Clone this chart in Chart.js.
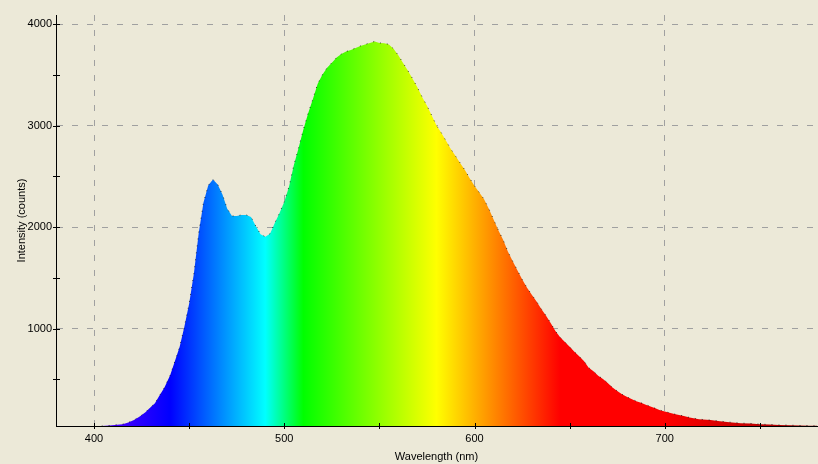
<!DOCTYPE html>
<html>
<head>
<meta charset="utf-8">
<script src="https://cdn.jsdelivr.net/npm/chart.js@4.4.1/dist/chart.umd.min.js"></script>
<style>
  html, body { margin: 0; padding: 0; background: #ECE9D8; }
  #wrap { width: 818px; height: 464px; }
</style>
</head>
<body>
<div id="wrap"><canvas id="spectrum"></canvas></div>
<script>
// wavelength (nm) and intensity (counts)
const wavelengths = [
  404, 408, 412, 415, 418, 421, 424, 427, 429, 432, 434, 437, 440, 442, 445,
  447.5, 450, 452.5, 455, 457.5, 460, 462.5, 465, 467.5, 470, 472.5, 475, 477.5, 480, 482.5,
  485, 487.5, 490, 492.5, 495, 497.5, 500, 502.5, 505, 507.5, 510, 512.5, 515, 517.5, 520,
  522.5, 525, 527.5, 530, 532.5, 535, 537.5, 540, 542.5, 545, 547.5, 550, 552.5, 555, 557.5,
  560, 562.5, 565, 567.5, 570, 572.5, 575, 577.5, 580, 582.5, 585, 587.5, 590, 592.5, 595,
  597.5, 600, 602.5, 605, 607.5, 610, 612.5, 615, 617.5, 620, 622.5, 625, 627.5, 630, 632.5,
  635, 637.5, 640, 642.5, 645, 647.5, 650, 652.5, 655, 657.5, 660, 662.5, 665, 667.5, 670,
  672.5, 675, 677.5, 680, 682.5, 685, 687.5, 690, 692.5, 695, 697.5, 700, 702.5, 705, 707.5,
  710, 713, 718, 724, 729, 734, 740, 745, 750, 755, 760, 766, 771, 776, 780
];
const intensity = [
  40, 45, 52, 58, 75, 100, 133, 175, 213, 265, 327, 420, 540, 650, 820,
  1020, 1248, 1544, 1940, 2240, 2410, 2470, 2420, 2320, 2180, 2110, 2110, 2120, 2120, 2100,
  2010, 1930, 1905, 1935, 2040, 2140, 2250, 2400, 2610, 2780, 2960, 3120, 3260, 3410, 3500,
  3570, 3620, 3670, 3705, 3730, 3745, 3765, 3785, 3800, 3815, 3830, 3815, 3812, 3800, 3755,
  3690, 3615, 3540, 3460, 3375, 3280, 3195, 3100, 3000, 2930, 2850, 2770, 2700, 2630, 2560,
  2480, 2405, 2340, 2275, 2180, 2075, 1970, 1875, 1760, 1665, 1575, 1485, 1405, 1335, 1270,
  1195, 1130, 1055, 975, 915, 868, 820, 771, 727, 680, 615, 580, 535, 503, 463,
  420, 385, 352, 328, 305, 285, 268, 250, 233, 214, 196, 183, 170, 158, 148,
  138, 124, 107, 98, 88, 78, 68, 65, 58, 55, 51, 48, 45, 43, 42
];

const xTicks = [400, 450, 500, 550, 600, 650, 700, 750];
const xLabels = [400, 500, 600, 700];
const yTicks = [500, 1000, 1500, 2000, 2500, 3000, 3500, 4000];
const yLabels = [1000, 2000, 3000, 4000];

// colour of the fill along the wavelength axis
const spectrumStops = [
  [380, '#7000ff'], [415, '#4000ff'], [440, '#0000ff'], [490, '#00ffff'],
  [510, '#00ff00'], [580, '#ffff00'], [645, '#ff0000'], [700, '#ff0000'], [780, '#990000']
];

const spectrumFill = (context) => {
  const chart = context.chart;
  const area = chart.chartArea;
  if (!area) return '#00ff00';
  const x = chart.scales.x;
  const g = chart.ctx.createLinearGradient(area.left, 0, area.right, 0);
  spectrumStops.forEach(([nm, c]) => {
    let t = (x.getPixelForValue(nm) - area.left) / (area.right - area.left);
    g.addColorStop(Math.min(1, Math.max(0, t)), c);
  });
  return g;
};

// tick marks that cross the axis line
const crossTicks = {
  id: 'crossTicks',
  afterDraw(chart) {
    const {ctx, chartArea, scales} = chart;
    ctx.save();
    ctx.strokeStyle = '#000';
    ctx.lineWidth = 1;
    ctx.beginPath();
    xTicks.forEach(v => {
      const px = Math.round(scales.x.getPixelForValue(v)) + 0.5;
      ctx.moveTo(px, chartArea.bottom - 3);
      ctx.lineTo(px, chartArea.bottom + 3);
    });
    yTicks.forEach(v => {
      const py = Math.round(scales.y.getPixelForValue(v)) + 0.5;
      ctx.moveTo(chartArea.left - 3, py);
      ctx.lineTo(chartArea.left + 4, py);
    });
    ctx.stroke();
    ctx.restore();
  }
};

const tickFont = { family: 'Liberation Sans', size: 11 };

new Chart(document.getElementById('spectrum'), {
  type: 'line',
  data: {
    datasets: [{
      data: wavelengths.map((w, i) => ({ x: w, y: intensity[i] })),
      fill: 'start',
      backgroundColor: spectrumFill,
      borderColor: 'rgba(0,0,0,0.7)',
      borderWidth: 1,
      borderDash: [1, 6],
      pointRadius: 0,
      tension: 0
    }]
  },
  options: {
    responsive: true,
    maintainAspectRatio: false,
    animation: false,
    layout: { padding: { top: 15, right: 1, left: 0, bottom: 0 } },
    plugins: { legend: { display: false }, tooltip: { enabled: false } },
    scales: {
      x: {
        type: 'linear',
        min: 380,
        max: 780,
        z: 1,
        afterBuildTicks: (s) => { s.ticks = xTicks.map(v => ({ value: v })); },
        afterFit: (s) => { s.height = 38; },
        ticks: {
          color: '#000',
          font: tickFont,
          padding: 3,
          maxRotation: 0,
          autoSkip: false,
          callback: (v) => xLabels.includes(v) ? String(v) : ''
        },
        grid: {
          color: (c) => xLabels.includes(c.tick && c.tick.value) ? '#a0a0a0' : 'rgba(0,0,0,0)',
          tickColor: 'rgba(0,0,0,0)',
          tickLength: 3
        },
        border: { display: true, color: '#000', width: 1, dash: [6, 9] },
        title: {
          display: true,
          text: 'Wavelength (nm)',
          color: '#000',
          font: tickFont,
          padding: { top: 5, bottom: 0 }
        }
      },
      y: {
        min: 40,
        max: 4090,
        z: 1,
        afterBuildTicks: (s) => { s.ticks = yTicks.map(v => ({ value: v })); },
        afterFit: (s) => { s.width = 56; },
        ticks: {
          color: '#000',
          font: tickFont,
          padding: 1,
          autoSkip: false,
          callback: (v) => yLabels.includes(v) ? String(v) : ''
        },
        grid: {
          color: (c) => yLabels.includes(c.tick && c.tick.value) ? '#a0a0a0' : 'rgba(0,0,0,0)',
          tickColor: 'rgba(0,0,0,0)',
          tickLength: 3
        },
        border: { display: true, color: '#000', width: 1, dash: [6, 9] },
        title: {
          display: true,
          text: 'Intensity (counts)',
          color: '#000',
          font: tickFont,
          padding: { top: 15, bottom: 0 }
        }
      }
    }
  },
  plugins: [crossTicks]
});
</script>
</body>
</html>
